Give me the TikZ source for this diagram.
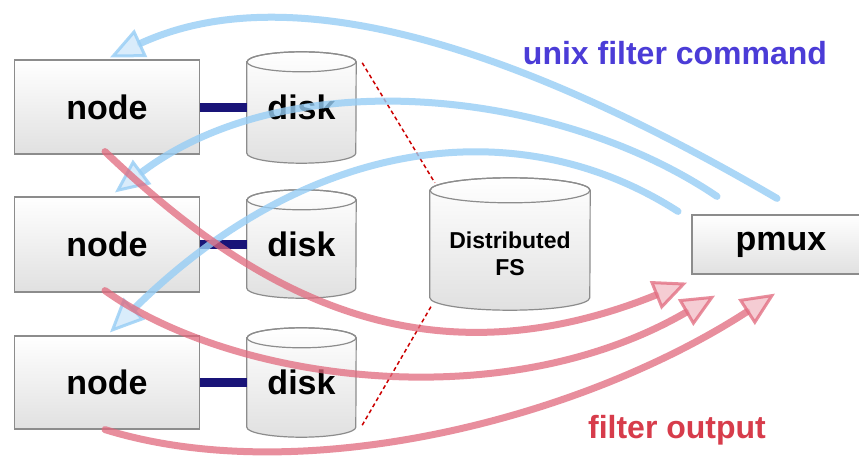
\documentclass[tikz,border=0pt]{standalone}
\usepackage{fontspec}
\setmainfont{Liberation Sans}
\usetikzlibrary{arrows.meta,calc,backgrounds}
\definecolor{arrblue}{RGB}{150,205,245}
\definecolor{arrred}{RGB}{225,105,125}
\definecolor{txtblue}{RGB}{75,60,215}
\definecolor{txtred}{RGB}{215,60,75}
\definecolor{linknavy}{RGB}{25,20,120}
\definecolor{boxline}{RGB}{140,140,140}
\tikzset{
  box/.style={rectangle, draw=boxline, line width=1.2pt, top color=white, bottom color=black!12, inner sep=0pt},
  cylarea/.style={rectangle, inner sep=0pt},
  bigtxt/.style={font=\bfseries\fontsize{34}{40}\selectfont},
  cylbody/.style={draw=boxline, line width=1.2pt, top color=white, bottom color=black!12},
  link/.style={draw=linknavy, line width=9pt},
  bluearr/.style={draw=arrblue, line width=7pt, line cap=round, opacity=0.8,
    -{Triangle[length=34pt, width=30pt, line width=3pt, fill=arrblue!45!white]}},
  redarr/.style={draw=arrred, line width=7pt, line cap=round, opacity=0.75,
    -{Triangle[length=34pt, width=30pt, line width=3pt, fill=arrred!45!white]}},
  fsdash/.style={draw=red!80!black, line width=1.5pt, dash pattern=on 4pt off 3pt},
}
\newcommand\drawcyl[3]{%
  \path[cylbody] ($(#1.north west)+(0,-#3pt)$) -- ($(#1.south west)+(0,#3pt)$)
    arc[start angle=180, end angle=360, x radius=#2pt, y radius=#3pt]
    -- ($(#1.north east)+(0,-#3pt)$)
    arc[start angle=0, end angle=180, x radius=#2pt, y radius=#3pt] -- cycle;
  \draw[draw=boxline, line width=1.2pt] ($(#1.north)+(0,-#3pt)$) ellipse[x radius=#2pt, y radius=#3pt];
}
\begin{document}
\begin{tikzpicture}[x=1pt,y=-1pt]
\useasboundingbox (0,0) rectangle (859,460);

% compute nodes
\node[box, bigtxt, minimum width=185pt, minimum height=94pt] (n1) at (107,107) {node};
\node[box, bigtxt, minimum width=185pt, minimum height=95pt] (n2) at (107,244.5) {node};
\node[box, bigtxt, minimum width=185pt, minimum height=93pt] (n3) at (107,382.5) {node};

% disks
\node[cylarea, bigtxt, minimum width=109pt, minimum height=111pt] (d1) at (301.5,107.5) {disk};
\node[cylarea, bigtxt, minimum width=109pt, minimum height=108pt] (d2) at (301.5,244) {disk};
\node[cylarea, bigtxt, minimum width=109pt, minimum height=109pt] (d3) at (301.5,382.5) {disk};
\node[cylarea, minimum width=160pt, minimum height=132pt,
  label={[name=fst, yshift=-10pt, align=center, font=\bfseries\fontsize{23}{27}\selectfont]center:Distributed\\FS}] (fs) at (510,244) {};

\begin{pgfonlayer}{background}
  \fill[white] (0,0) rectangle (859,460);
  \drawcyl{d1}{54.5}{10}
  \drawcyl{d2}{54.5}{10}
  \drawcyl{d3}{54.5}{10}
  \drawcyl{fs}{80}{12.5}
\end{pgfonlayer}

% pmux
\node[box, bigtxt, minimum width=178pt, minimum height=59pt] (pm) at (781,244.5) {pmux};

% node-disk links
\draw[link] (n1.east) -- (n1.east -| d1.west);
\draw[link] (n2.east) -- (n2.east -| d2.west);
\draw[link] (n3.east) -- (n3.east -| d3.west);

% dashed lines to distributed FS
\draw[fsdash] ($(d1.north east)+(6,11)$) -- ($(fs.north west)+(5,5)$);
\draw[fsdash] ($(d3.south east)+(6,-12)$) -- ($(fs.south west)+(2,-5)$);

% unix filter command arrows
\draw[bluearr] ($(pm.north)+(-4,-16)$) .. controls (540,60) and (300,-30) .. ($(n1.north)+(3,-2)$);
\draw[bluearr] ($(pm.north)+(-64,-18)$) .. controls (560,90) and (290,60) .. ($(n2.north)+(8,-4)$);
\draw[bluearr] ($(pm.north)+(-103,-3)$) .. controls (520,110) and (310,135) .. ($(n3.north)+(3,-3)$);

% filter output arrows
\draw[redarr] ($(n1.south)+(-2,-3)$) .. controls (250,290) and (420,390) .. ($(pm.south)+(-94,8)$);
\draw[redarr] ($(n2.south)+(-2,-2)$) .. controls (230,380) and (500,420) .. ($(pm.south)+(-66,21)$);
\draw[redarr] ($(n3.south)+(-2,0)$) .. controls (300,490) and (580,420) .. ($(pm.south)+(-6,19)$);

% labels
\node[anchor=base, text=txtblue, font=\bfseries\fontsize{32}{38}\selectfont] (lcmd) at (675,65) {unix filter command};
\node[anchor=base, text=txtred, font=\bfseries\fontsize{32}{38}\selectfont] (lout) at (677,438) {filter output};
\end{tikzpicture}
\end{document}
